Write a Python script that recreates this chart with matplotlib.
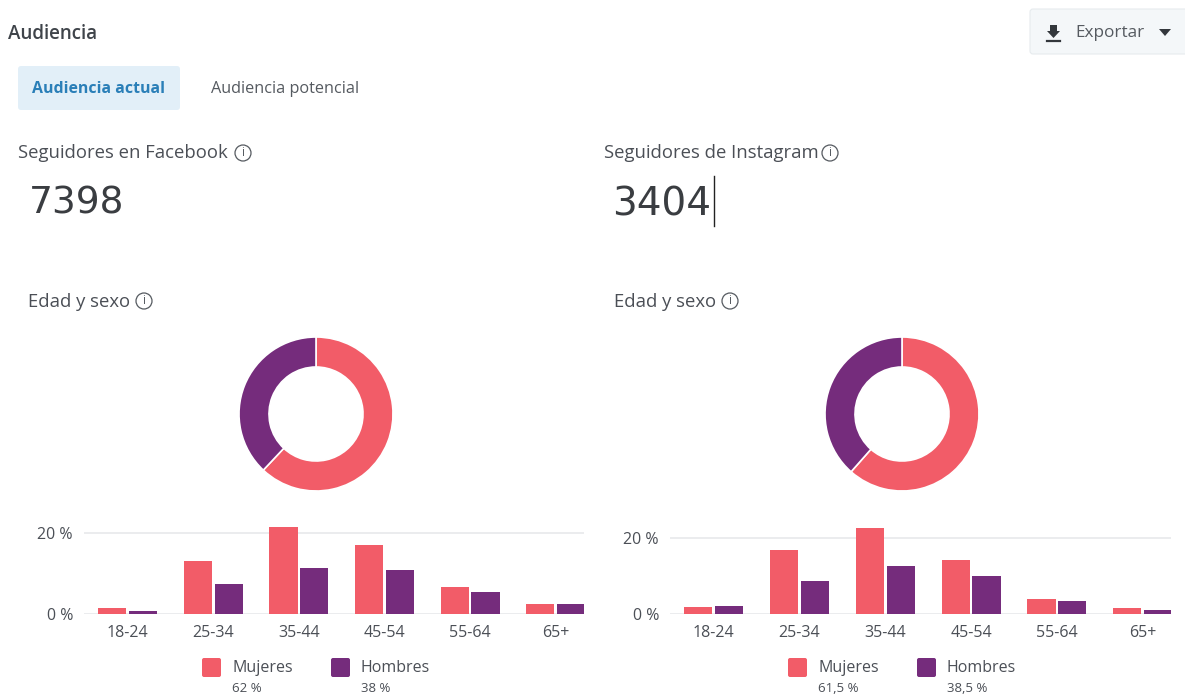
import matplotlib
matplotlib.use('Agg')
import matplotlib.pyplot as plt
from matplotlib.patches import FancyBboxPatch, Circle, Polygon

plt.rcParams['font.family'] = ['Open Sans', 'DejaVu Sans']

W, H = 1185, 699

age_labels = ['18-24', '25-34', '35-44', '45-54', '55-64', '65+']
fb_mujeres = [1.5, 13.0, 21.5, 17.0, 6.7, 2.35]
fb_hombres = [0.7, 7.4, 11.3, 10.9, 5.4, 2.35]
ig_mujeres = [1.9, 16.9, 22.6, 14.2, 3.9, 1.5]
ig_hombres = [2.1, 8.8, 12.6, 10.1, 3.5, 1.0]
fb_share = [62, 38]
ig_share = [61.5, 38.5]
fb_share_labels = ['62 %', '38 %']
ig_share_labels = ['61,5 %', '38,5 %']
y_ticks = [0, 20]
y_tick_labels = ['0 %', '20 %']

PINK = '#f25c68'
PURPLE = '#752c7c'
TXT = '#4b4f56'


def axes_px(fig, x0, y0, x1, y1):
    # pixel box, y measured from the top of the image
    return fig.add_axes([x0 / W, 1 - y1 / H, (x1 - x0) / W, (y1 - y0) / H])


def donut(fig, cx, cy, share):
    ax = axes_px(fig, cx - 80, cy - 80, cx + 80, cy + 80)
    ax.pie(share, colors=[PINK, PURPLE], startangle=90, counterclock=False, radius=77 / 80,
           wedgeprops=dict(width=30 / 80, edgecolor='white', linewidth=1.2))
    ax.set_xlim(-1, 1)
    ax.set_ylim(-1, 1)
    ax.set_aspect('equal')
    ax.axis('off')


def bars(fig, x0, x1, y_top, y_zero, y_20, mujeres, hombres):
    # y range chosen so 20 % lands on the gridline pixel
    top_val = 20 * (y_zero - y_top) / (y_zero - y_20)
    ax = axes_px(fig, x0, y_top, x1, y_zero)
    pos = list(range(len(age_labels)))
    ax.bar([p - 0.18 for p in pos], mujeres, width=0.33, color=PINK, zorder=3)
    ax.bar([p + 0.18 for p in pos], hombres, width=0.33, color=PURPLE, zorder=3)
    ax.set_xlim(-0.51, 5.33)
    ax.set_ylim(0, top_val)
    ax.set_yticks(y_ticks)
    ax.set_yticklabels(y_tick_labels, fontsize=11.5, color=TXT)
    ax.set_xticks(pos)
    ax.set_xticklabels(age_labels, fontsize=11.5, color=TXT)
    ax.tick_params(length=0, pad=8)
    ax.grid(axis='y', color='#e8e9eb', linewidth=1.2, zorder=0)
    for s in ax.spines.values():
        s.set_visible(False)
    ax.set_facecolor('none')


fig = plt.figure(figsize=(W / 100, H / 100), dpi=100, facecolor='white')

# page furniture drawn in pixel coordinates
ui = fig.add_axes([0, 0, 1, 1])
ui.set_xlim(0, W)
ui.set_ylim(H, 0)
ui.axis('off')


def box(x0, y0, x1, y1, color, r=3, ec='none'):
    ui.add_patch(FancyBboxPatch((x0 + r, y0 + r), x1 - x0 - 2 * r, y1 - y0 - 2 * r,
                                boxstyle='round,pad=%d' % r, fc=color, ec=ec, lw=0.8))


def info(x, y):
    ui.add_patch(Circle((x, y), 8, fc='none', ec='#555a60', lw=0.9))
    ui.text(x, y, 'i', ha='center', va='center', fontsize=8.5, color='#555a60')


ui.text(8, 34, 'Audiencia', fontsize=13.5, fontweight='semibold', color='#3f444a', va='center')
box(18, 66, 180, 110, '#e2eff8')
ui.text(99, 89, 'Audiencia actual', fontsize=11.4, fontweight='bold', color='#2a7fb8', ha='center', va='center')
ui.text(285, 89, 'Audiencia potencial', fontsize=11.7, color='#555a60', ha='center', va='center')

box(1030, 9, 1190, 54, '#f4f7f9', ec='#e6ebee')
ui.add_patch(Polygon([[1050, 25], [1057, 25], [1057, 31], [1060, 31], [1053.5, 38], [1047, 31], [1050, 31]], fc='#33373c'))
ui.plot([1047, 1060], [41, 41], color='#33373c', lw=1.6)
ui.text(1075, 33, 'Exportar', fontsize=12.3, color='#555a60', va='center')
ui.add_patch(Polygon([[1159, 29], [1171, 29], [1165, 36]], fc='#33373c'))

ui.text(18, 153, 'Seguidores en Facebook', fontsize=13.3, color='#4b4f56', va='center')
info(243, 153)
ui.text(29, 204, '7398', fontsize=27, family='DejaVu Sans', color='#3a3d41', va='center')
ui.text(604, 153, 'Seguidores de Instagram', fontsize=13.3, color='#4b4f56', va='center')
info(830, 153)
ui.text(612, 204, '3404', fontsize=28, family='DejaVu Sans', color='#3a3d41', va='center')
ui.plot([714, 714], [176, 226], color='#222222', lw=1)

ui.text(28, 302, 'Edad y sexo', fontsize=13.3, color='#4b4f56', va='center')
info(144, 301)
ui.text(614, 302, 'Edad y sexo', fontsize=13.3, color='#4b4f56', va='center')
info(730, 301)

for sw1, tx1, sw2, tx2, labs in [(202, 232, 331, 361, fb_share_labels),
                                 (788, 818, 917, 947, ig_share_labels)]:
    box(sw1, 658, sw1 + 19, 677, PINK, r=2)
    box(sw2, 658, sw2 + 19, 677, PURPLE, r=2)
    ui.text(tx1, 668, 'Mujeres', fontsize=11.5, color=TXT, va='center')
    ui.text(tx2, 668, 'Hombres', fontsize=11.5, color=TXT, va='center')
    ui.text(tx1, 689, labs[0], fontsize=9.5, color=TXT, va='center')
    ui.text(tx2, 689, labs[1], fontsize=9.5, color=TXT, va='center')

donut(fig, 316, 414, fb_share)
donut(fig, 902, 414, ig_share)
bars(fig, 84, 584, 525, 614, 533, fb_mujeres, fb_hombres)
bars(fig, 670, 1171, 525, 614, 538, ig_mujeres, ig_hombres)

fig.savefig('out.png', dpi=100, facecolor='white')
